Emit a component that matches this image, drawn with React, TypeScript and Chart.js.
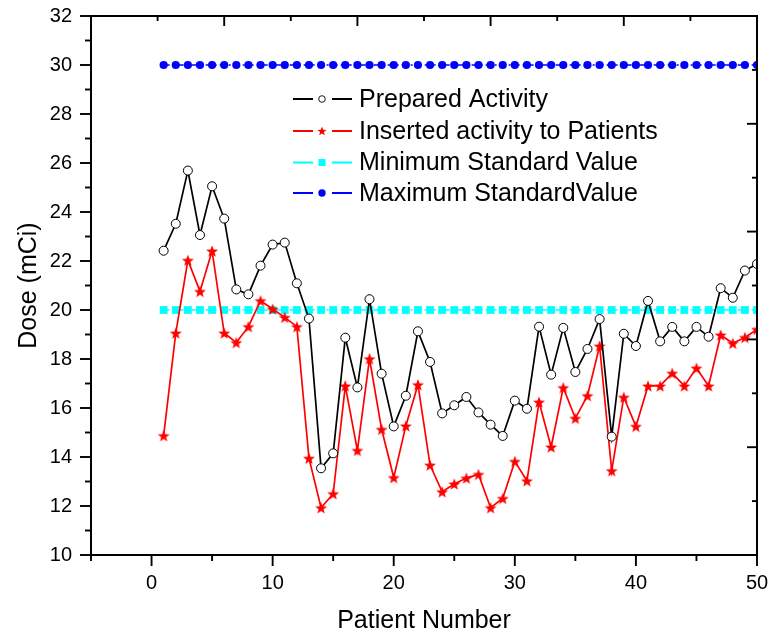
import React, { useEffect, useRef } from 'react';
import { Chart, registerables } from 'chart.js';

Chart.register(...registerables);

// ---------- data ----------
const patientNumbers = [
  1, 2, 3, 4, 5, 6, 7, 8, 9, 10,
  11, 12, 13, 14, 15, 16, 17, 18, 19, 20,
  21, 22, 23, 24, 25, 26, 27, 28, 29, 30,
  31, 32, 33, 34, 35, 36, 37, 38, 39, 40,
  41, 42, 43, 44, 45, 46, 47, 48, 49, 50,
];

const preparedActivity = [
  22.42, 23.52, 25.69, 23.06, 25.05, 23.73, 20.84, 20.64, 21.81, 22.67,
  22.75, 21.09, 19.65, 13.54, 14.15, 18.87, 16.84, 20.44, 17.4, 15.25,
  16.5, 19.13, 17.88, 15.78, 16.11, 16.45, 15.82, 15.32, 14.86, 16.3,
  15.97, 19.32, 17.36, 19.27, 17.47, 18.41, 19.63, 14.83, 19.03, 18.53,
  20.37, 18.72, 19.31, 18.72, 19.31, 18.91, 20.89, 20.5, 21.61, 21.88,
];

const insertedActivity = [
  14.87, 19.06, 22.03, 20.76, 22.41, 19.06, 18.67, 19.32, 20.38, 20.04,
  19.7, 19.32, 13.95, 11.93, 12.5, 16.9, 14.27, 18.01, 15.13, 13.16,
  15.27, 16.95, 13.67, 12.58, 12.9, 13.14, 13.29, 11.93, 12.31, 13.82,
  13.03, 16.24, 14.41, 16.83, 15.58, 16.5, 18.53, 13.44, 16.44, 15.25,
  16.9, 16.9, 17.42, 16.9, 17.63, 16.9, 18.98, 18.64, 18.88, 19.21,
];

const minimumStandardValue = 20;
const maximumStandardValue = 30;

const seriesLabels = [
  'Prepared Activity',
  'Inserted activity to Patients',
  'Minimum Standard Value',
  'Maximum StandardValue',
];

const xAxisTitle = 'Patient Number';
const yAxisTitle = 'Dose (mCi)';

const xMin = -5;
const xMax = 50;
const yMin = 10;
const yMax = 32;
const xTickValues = [0, 10, 20, 30, 40, 50];
const xMinorTickValues = [-5, 5, 15, 25, 35, 45];
const yTickValues = [10, 12, 14, 16, 18, 20, 22, 24, 26, 28, 30, 32];
const yMinorTickValues = [11, 13, 15, 17, 19, 21, 23, 25, 27, 29, 31];

// ---------- styling ----------
const FONT = 'Arial, "Liberation Sans", sans-serif';
const RED = '#ff0000';
const CYAN = '#00ffff';
const BLUE = '#0000ff';

function starPath(ctx: CanvasRenderingContext2D, cx: number, cy: number, outer: number, inner: number) {
  ctx.beginPath();
  for (let i = 0; i < 10; i++) {
    const r = i % 2 === 0 ? outer : inner;
    const a = -Math.PI / 2 + (i * Math.PI) / 5;
    const px = cx + r * Math.cos(a);
    const py = cy + r * Math.sin(a);
    if (i === 0) ctx.moveTo(px, py);
    else ctx.lineTo(px, py);
  }
  ctx.closePath();
}

function makeStarImage(size: number, outer: number, inner: number) {
  const c = document.createElement('canvas');
  c.width = size;
  c.height = size;
  const g = c.getContext('2d') as CanvasRenderingContext2D;
  g.fillStyle = RED;
  starPath(g, size / 2, size / 2 + 0.6, outer, inner);
  g.fill();
  return c;
}

const frameAndTicksPlugin = {
  id: 'frameAndTicks',
  afterDraw(chart: any) {
    const { ctx, chartArea } = chart;
    const { left, right, top, bottom } = chartArea;
    const xs = chart.scales.x;
    const ys = chart.scales.y;
    ctx.save();
    ctx.strokeStyle = '#000';
    ctx.lineCap = 'butt';
    const seg = (x1: number, y1: number, x2: number, y2: number) => {
      ctx.beginPath();
      ctx.moveTo(x1, y1);
      ctx.lineTo(x2, y2);
      ctx.stroke();
    };
    ctx.lineWidth = 1.9;
    yTickValues.forEach((v) => {
      const p = ys.getPixelForValue(v);
      seg(left - 11, p, left, p);
    });
    yMinorTickValues.forEach((v) => {
      const p = ys.getPixelForValue(v);
      seg(left - 6, p, left, p);
    });
    xTickValues.forEach((v) => {
      const p = xs.getPixelForValue(v);
      seg(p, bottom, p, bottom + 11);
    });
    xMinorTickValues.forEach((v) => {
      const p = xs.getPixelForValue(v);
      seg(p, bottom, p, bottom + 6);
    });
    // inward ticks of the top and right frame axes
    for (let i = 1; i < 10; i++) {
      const major = i % 2 === 0;
      const len = major ? 10 : 5;
      const px = left + ((right - left) * i) / 10;
      seg(px, top, px, top + len);
      const py = bottom - ((bottom - top) * i) / 10;
      seg(right, py, right - len, py);
    }
    ctx.lineWidth = 2;
    ctx.strokeRect(left, top, right - left, bottom - top);
    ctx.restore();
  },
};

const legendPlugin = {
  id: 'originLegend',
  afterDraw(chart: any) {
    const { ctx } = chart;
    const lineX1 = 293;
    const lineX2 = 352;
    const markerX = 322;
    const textX = 359;
    const rowY = [99, 131, 162.5, 193];
    const colors = ['#000000', RED, CYAN, BLUE];
    ctx.save();
    ctx.font = `25px ${FONT}`;
    ctx.textBaseline = 'middle';
    ctx.textAlign = 'left';
    seriesLabels.forEach((label, i) => {
      const y = rowY[i];
      ctx.strokeStyle = colors[i];
      ctx.lineWidth = 1.8;
      ctx.beginPath();
      ctx.moveTo(lineX1, y);
      ctx.lineTo(markerX - 9, y);
      ctx.moveTo(markerX + 10, y);
      ctx.lineTo(lineX2, y);
      ctx.stroke();
      if (i === 0) {
        ctx.beginPath();
        ctx.arc(markerX, y, 3.3, 0, Math.PI * 2);
        ctx.fillStyle = '#fff';
        ctx.fill();
        ctx.lineWidth = 0.9;
        ctx.strokeStyle = '#000';
        ctx.stroke();
      } else if (i === 1) {
        ctx.fillStyle = RED;
        starPath(ctx, markerX, y + 0.4, 4.8, 2.0);
        ctx.fill();
      } else if (i === 2) {
        ctx.fillStyle = CYAN;
        ctx.fillRect(markerX - 3.5, y - 3.5, 7, 7);
      } else {
        ctx.beginPath();
        ctx.arc(markerX, y, 3.7, 0, Math.PI * 2);
        ctx.fillStyle = BLUE;
        ctx.fill();
      }
      ctx.fillStyle = '#000';
      ctx.fillText(label, textX, y + 1);
    });
    ctx.restore();
  },
};

export default function App() {
  const canvasRef = useRef<HTMLCanvasElement | null>(null);

  useEffect(() => {
    document.body.style.margin = '0';
    const canvas = canvasRef.current;
    if (!canvas) return;
    const starImage = makeStarImage(14, 6.3, 2.6);

    const chart = new Chart(canvas, {
      type: 'scatter',
      data: {
        datasets: [
          {
            label: seriesLabels[0],
            data: patientNumbers.map((x, i) => ({ x, y: preparedActivity[i] })),
            showLine: true,
            borderColor: '#000000',
            borderWidth: 1.7,
            pointStyle: 'circle',
            pointRadius: 4.5,
            pointBackgroundColor: '#ffffff',
            pointBorderColor: '#000000',
            pointBorderWidth: 1,
          },
          {
            label: seriesLabels[1],
            data: patientNumbers.map((x, i) => ({ x, y: insertedActivity[i] })),
            showLine: true,
            borderColor: RED,
            borderWidth: 1.7,
            pointStyle: starImage as any,
            pointRadius: 6,
            pointBackgroundColor: RED,
            pointBorderColor: RED,
          },
          {
            label: seriesLabels[2],
            data: patientNumbers.map((x) => ({ x, y: minimumStandardValue })),
            showLine: true,
            borderColor: CYAN,
            borderWidth: 1.5,
            borderDash: [6, 3, 2, 3],
            pointStyle: 'rect',
            pointRadius: 5.5,
            pointBackgroundColor: CYAN,
            pointBorderColor: CYAN,
            pointBorderWidth: 0,
          },
          {
            label: seriesLabels[3],
            data: patientNumbers.map((x) => ({ x, y: maximumStandardValue })),
            showLine: true,
            borderColor: BLUE,
            borderWidth: 1.5,
            borderDash: [6, 3, 2, 3],
            pointStyle: 'circle',
            pointRadius: 4.1,
            pointBackgroundColor: BLUE,
            pointBorderColor: BLUE,
            pointBorderWidth: 0,
          },
        ],
      },
      options: {
        responsive: false,
        animation: false,
        events: [],
        layout: { padding: { left: 0, top: 16, right: 13, bottom: 0 } },
        plugins: {
          legend: { display: false },
          tooltip: { enabled: false },
          title: { display: false },
        },
        scales: {
          x: {
            type: 'linear',
            min: xMin,
            max: xMax,
            afterBuildTicks: (scale: any) => {
              scale.ticks = xTickValues.map((v) => ({ value: v }));
            },
            afterFit: (scale: any) => {
              scale.height = 81;
            },
            grid: {
              display: true,
              drawOnChartArea: false,
              drawTicks: true,
              tickLength: 15,
              color: 'rgba(0,0,0,0)',
            },
            border: { display: false },
            ticks: {
              color: '#000',
              font: { family: FONT, size: 20 },
              padding: 1,
              maxRotation: 0,
              autoSkip: false,
            },
            title: {
              display: true,
              text: xAxisTitle,
              color: '#000',
              font: { family: FONT, size: 25 },
              padding: { top: 0, bottom: 0 },
            },
          },
          y: {
            type: 'linear',
            min: yMin,
            max: yMax,
            afterBuildTicks: (scale: any) => {
              scale.ticks = yTickValues.map((v) => ({ value: v }));
            },
            afterFit: (scale: any) => {
              scale.width = 91;
            },
            grid: {
              display: true,
              drawOnChartArea: false,
              drawTicks: true,
              tickLength: 17,
              color: 'rgba(0,0,0,0)',
            },
            border: { display: false },
            ticks: {
              color: '#000',
              font: { family: FONT, size: 20 },
              padding: 2,
              autoSkip: false,
            },
            title: {
              display: true,
              text: yAxisTitle,
              color: '#000',
              font: { family: FONT, size: 25 },
              padding: { top: 14, bottom: 0 },
            },
          },
        },
      },
      plugins: [frameAndTicksPlugin, legendPlugin],
    } as any);

    return () => {
      chart.destroy();
    };
  }, []);

  return (
    <div style={{ position: 'absolute', left: 0, top: 0, width: 770, height: 636, background: '#fff' }}>
      <canvas ref={canvasRef} width={770} height={636} style={{ display: 'block' }} />
    </div>
  );
}
